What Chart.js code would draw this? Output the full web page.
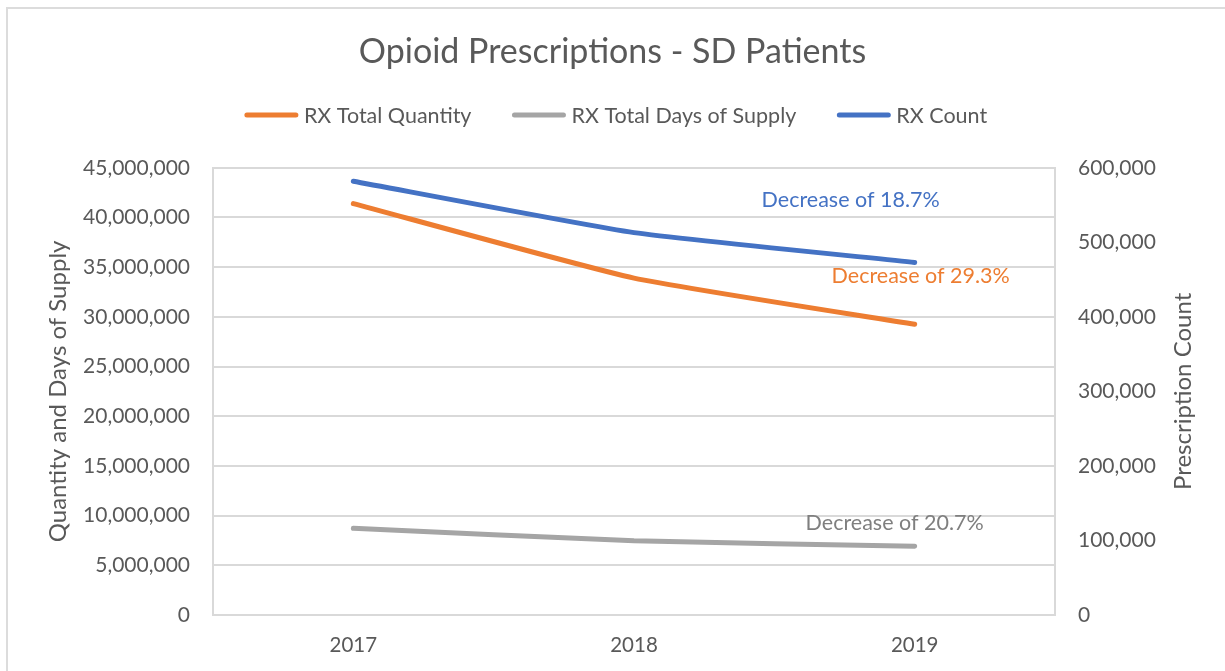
<!DOCTYPE html>
<html>
<head>
<meta charset="utf-8">
<script src="https://cdn.jsdelivr.net/npm/chart.js@4.4.1/dist/chart.umd.min.js"></script>
<style>
  html, body { margin: 0; padding: 0; background: #fff; }
  #wrap { position: absolute; left: 0; top: 0; width: 1225px; height: 671px; }
  #frame { position: absolute; left: 6px; top: 7px; width: 1225px; height: 680px; border: 2px solid #dcdcdc; box-sizing: border-box; }
  canvas { position: absolute; left: 0; top: 0; }
</style>
</head>
<body>
<div id="wrap">
  <div id="frame"></div>
  <canvas id="myChart" width="1225" height="671"></canvas>
</div>
<script>
const years = ['2017', '2018', '2019'];
const rxTotalQuantity = [41400000, 33900000, 29250000];
const rxTotalDaysSupply = [8730000, 7460000, 6920000];
const rxCount = [582000, 513000, 473000];
const leftTicks = [0, 5000000, 10000000, 15000000, 20000000, 25000000, 30000000, 35000000, 40000000, 45000000];
const rightTicks = [0, 100000, 200000, 300000, 400000, 500000, 600000];
const notes = [
    { text: 'Decrease of 18.7%', dataset: 2, color: '#4472C4', dx: -64, dy: -62 },
    { text: 'Decrease of 29.3%', dataset: 0, color: '#ED7D31', dx: 6, dy: -48 },
    { text: 'Decrease of 20.7%', dataset: 1, color: '#7f7f7f', dx: -20, dy: -23 }
];

const FONT = 'Lato, "Open Sans", sans-serif';
const TXT = '#595959';

// légende + titre de l'axe droit + annotations, dessinés à la main
const extrasPlugin = {
    id: 'extras',
    afterDraw(chart) {
        const c = chart.ctx;
        c.save();

        // légende
        c.font = '21.5px ' + FONT;
        c.textBaseline = 'middle';
        const sw = 55, gap = 5, space = 40;
        const items = chart.data.datasets.map(ds => ({ ds, w: sw + gap + c.measureText(ds.label).width }));
        const total = items.reduce((s, it) => s + it.w, 0) + space * (items.length - 1);
        let x = (chart.width - total) / 2 + 3;
        const y = 115;
        items.forEach(it => {
            c.strokeStyle = it.ds.borderColor;
            c.lineWidth = 5;
            c.lineCap = 'round';
            c.beginPath();
            c.moveTo(x + 3, y);
            c.lineTo(x + sw - 3, y);
            c.stroke();
            c.fillStyle = TXT;
            c.textAlign = 'left';
            c.fillText(it.ds.label, x + sw + gap, y + 1);
            x += it.w + space;
        });

        // titre axe droit (lu de bas en haut)
        const y1 = chart.scales.y1;
        c.save();
        c.translate(1183, (y1.top + y1.bottom) / 2);
        c.rotate(-Math.PI / 2);
        c.font = '24px ' + FONT;
        c.textAlign = 'center';
        c.fillStyle = TXT;
        c.fillText('Prescription Count', 0, 0);
        c.restore();

        // annotations près du dernier point
        c.font = '21.5px ' + FONT;
        c.textAlign = 'center';
        notes.forEach(n => {
            const pt = chart.getDatasetMeta(n.dataset).data[2];
            c.fillStyle = n.color;
            c.fillText(n.text, pt.x + n.dx, pt.y + n.dy);
        });
        c.restore();
    }
};

const ctx = document.getElementById('myChart').getContext('2d');
const myChart = new Chart(ctx, {
    type: 'line',
    data: {
        labels: years,
        datasets: [
            { label: 'RX Total Quantity', data: rxTotalQuantity, borderColor: '#ED7D31', backgroundColor: '#ED7D31', yAxisID: 'y' },
            { label: 'RX Total Days of Supply', data: rxTotalDaysSupply, borderColor: '#A5A5A5', backgroundColor: '#A5A5A5', yAxisID: 'y' },
            { label: 'RX Count', data: rxCount, borderColor: '#4472C4', backgroundColor: '#4472C4', yAxisID: 'y1' }
        ]
    },
    options: {
        responsive: false,
        animation: false,
        layout: { padding: { left: 0, right: 0, top: 0, bottom: 0 } },
        elements: {
            line: { borderWidth: 5, tension: 0.15, borderCapStyle: 'round', borderJoinStyle: 'round', fill: false },
            point: { radius: 0, hoverRadius: 0 }
        },
        plugins: {
            title: {
                display: true,
                text: 'Opioid Prescriptions - SD Patients',
                color: TXT,
                font: { family: FONT, size: 34, weight: 'normal' },
                padding: { top: 32, bottom: 95 }
            },
            legend: { display: false },
            tooltip: { enabled: false }
        },
        scales: {
            x: {
                offset: true,
                grid: { display: false },
                border: { display: true, color: '#d9d9d9', width: 2 },
                ticks: { color: TXT, font: { family: FONT, size: 20.5 }, padding: 10 },
                afterFit(axis) { axis.height = 671 - 615; }
            },
            y: {
                position: 'left',
                min: 0,
                max: 45000000,
                afterBuildTicks(axis) { axis.ticks = leftTicks.map(v => ({ value: v })); },
                afterFit(axis) { axis.width = 213; },
                grid: { color: '#d9d9d9', lineWidth: 2, drawTicks: false },
                border: { display: true, color: '#d9d9d9', width: 2 },
                ticks: {
                    color: TXT,
                    font: { family: FONT, size: 21 },
                    padding: 23,
                    callback: v => v.toLocaleString('en-US')
                },
                title: {
                    display: true,
                    text: 'Quantity and Days of Supply',
                    color: TXT,
                    font: { family: FONT, size: 24 },
                    padding: { top: 44, bottom: 0 }
                }
            },
            y1: {
                position: 'right',
                min: 0,
                max: 600000,
                afterBuildTicks(axis) { axis.ticks = rightTicks.map(v => ({ value: v })); },
                afterFit(axis) { axis.width = 1225 - 1055; },
                grid: { display: false, drawTicks: false },
                border: { display: true, color: '#d9d9d9', width: 2 },
                ticks: {
                    color: TXT,
                    font: { family: FONT, size: 21 },
                    padding: 23,
                    callback: v => v.toLocaleString('en-US')
                }
            }
        }
    },
    plugins: [extrasPlugin]
});
</script>
</body>
</html>
